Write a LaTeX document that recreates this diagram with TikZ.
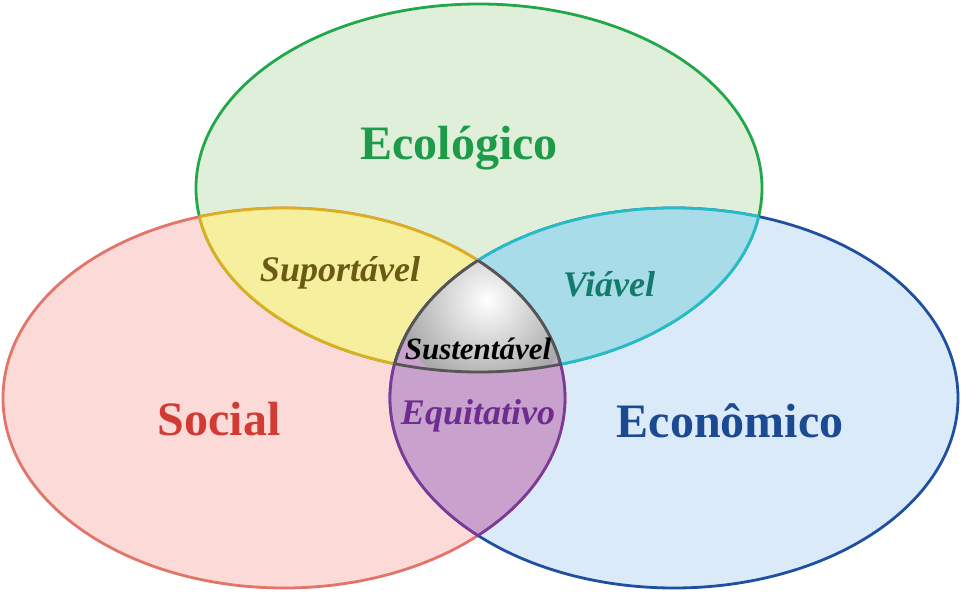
\documentclass[tikz,border=0pt]{standalone}
\usepackage{fontspec}
\setmainfont{Liberation Serif}
\usepackage{xcolor}
\usepackage{tikz}
\definecolor{ecoline}{HTML}{22A84A}
\definecolor{ecofill}{HTML}{DFEFD9}
\definecolor{socline}{HTML}{E27468}
\definecolor{socfill}{HTML}{FCDAD8}
\definecolor{ecnline}{HTML}{1F4FA0}
\definecolor{ecnfill}{HTML}{DBEAF8}
\definecolor{supline}{HTML}{DCAE22}
\definecolor{supfill}{HTML}{F5EF9E}
\definecolor{vialine}{HTML}{25BBC9}
\definecolor{viafill}{HTML}{A8DCE8}
\definecolor{equline}{HTML}{7B3A9A}
\definecolor{equfill}{HTML}{C8A1CC}
\definecolor{susline}{HTML}{555555}
\definecolor{susedge}{HTML}{A6A6A6}
\definecolor{ecotext}{HTML}{1E9B48}
\definecolor{soctext}{HTML}{D23B33}
\definecolor{ecntext}{HTML}{1C4A92}
\definecolor{suptext}{HTML}{6A5A14}
\definecolor{viatext}{HTML}{147A6C}
\definecolor{equtext}{HTML}{6F2B8F}

\def\ecoset{(479,188) ellipse [x radius=283pt, y radius=184pt]}
\def\socset{(284,398) ellipse [x radius=281pt, y radius=190pt]}
\def\ecnset{(674,398) ellipse [x radius=284pt, y radius=190pt]}

\begin{document}
\begin{tikzpicture}[x=1pt, y=-1pt,
    rim/.style={line width=2.8pt},
    bigtitle/.style={font=\fontsize{48}{50}\selectfont\bfseries, anchor=base},
    midtitle/.style={font=\fontsize{36}{38}\selectfont\bfseries\itshape, anchor=base}]
  \useasboundingbox (0,0) rectangle (962,597);

  % --- The three sets ---
  \fill[ecofill] \ecoset;
  \fill[socfill] \socset;
  \fill[ecnfill] \ecnset;
  \draw[rim, ecoline] \ecoset;
  \draw[rim, socline] \socset;
  \draw[rim, ecnline] \ecnset;

  % --- Ecologico and Social: suportavel ---
  \begin{scope}
    \clip \ecoset;
    \fill[supfill] \socset;
    \draw[rim, supline] \socset;
  \end{scope}
  \begin{scope}
    \clip \socset;
    \draw[rim, supline] \ecoset;
  \end{scope}

  % --- Ecologico and Economico: viavel ---
  \begin{scope}
    \clip \ecoset;
    \fill[viafill] \ecnset;
    \draw[rim, vialine] \ecnset;
  \end{scope}
  \begin{scope}
    \clip \ecnset;
    \draw[rim, vialine] \ecoset;
  \end{scope}

  % --- Social and Economico: equitativo ---
  \begin{scope}
    \clip \socset;
    \fill[equfill] \ecnset;
    \draw[rim, equline] \ecnset;
  \end{scope}
  \begin{scope}
    \clip \ecnset;
    \draw[rim, equline] \socset;
  \end{scope}

  % --- All three: sustentavel ---
  \begin{scope}
    \clip \ecoset;
    \clip \socset;
    \clip \ecnset;
    \shade[inner color=white, outer color=susedge] (487,300) circle (90pt);
  \end{scope}
  \begin{scope}
    \clip \ecoset;
    \clip \socset;
    \draw[rim, susline] \ecnset;
  \end{scope}
  \begin{scope}
    \clip \ecnset;
    \clip \socset;
    \draw[rim, susline] \ecoset;
  \end{scope}
  \begin{scope}
    \clip \ecnset;
    \clip \ecoset;
    \draw[rim, susline] \socset;
  \end{scope}

  % --- Labels ---
  \node[bigtitle, text=ecotext] (eco) at (459,159) {Ecológico};
  \node[bigtitle, text=soctext] (soc) at (219,435) {Social};
  \node[bigtitle, text=ecntext] (ecn) at (730,437) {Econômico};
  \node[midtitle, text=suptext] (sup) at (340,281) {Suportável};
  \node[midtitle, text=viatext] (via) at (609,296) {Viável};
  \node[midtitle, text=equtext] (equ) at (478,424) {Equitativo};
  \node[font=\fontsize{31}{33}\selectfont\bfseries\itshape, anchor=base] (sus) at (478,359) {Sustentável};
\end{tikzpicture}
\end{document}
